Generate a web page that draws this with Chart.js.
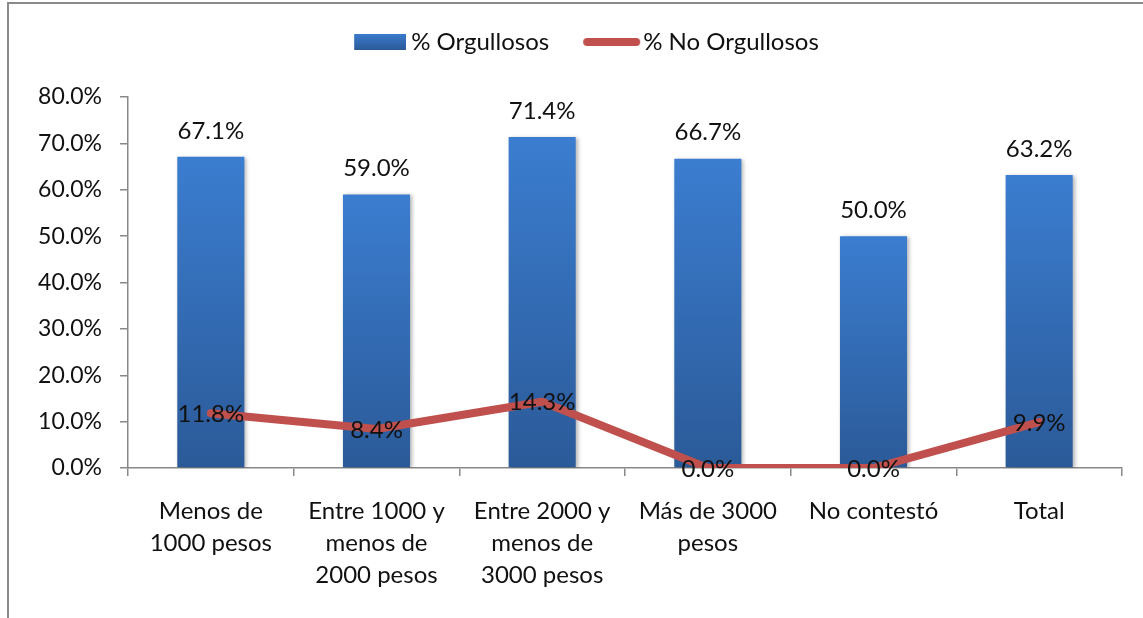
<!DOCTYPE html>
<html>
<head>
<meta charset="utf-8">
<script src="https://cdn.jsdelivr.net/npm/chart.js@4.4.1/dist/chart.umd.min.js"></script>
<style>
  html, body { margin: 0; padding: 0; background: #fff; overflow: hidden; }
  #frame { position: absolute; left: 7px; top: 2px; width: 1200px; height: 700px; border: 2px solid #8a8a8a; }
  #wrap { position: absolute; left: 0; top: 0; width: 1143px; height: 618px; }
</style>
</head>
<body>
<div id="frame"></div>
<div id="wrap"><canvas id="chart" width="1143" height="618"></canvas></div>
<script>
// chart data
const categories = [
  ["Menos de", "1000 pesos"],
  ["Entre 1000 y", "menos de", "2000 pesos"],
  ["Entre 2000 y", "menos de", "3000 pesos"],
  ["Más de 3000", "pesos"],
  ["No contestó"],
  ["Total"]
];
const orgullosos = [67.1, 59.0, 71.4, 66.7, 50.0, 63.2];
const noOrgullosos = [11.8, 8.4, 14.3, 0.0, 0.0, 9.9];
const seriesNames = ["% Orgullosos", "% No Orgullosos"];
const yMin = 0, yMax = 80, yStep = 10;

const FONT = "Lato";
const TEXT = "#111";
const AXIS = "#888";

Chart.defaults.font.family = FONT;
Chart.defaults.font.size = 24;
Chart.defaults.color = TEXT;

// legend swatches (image wider than the box so the gap to the text is small)
function blueSwatch() {
  const c = document.createElement("canvas");
  c.width = 66; c.height = 18;
  const x = c.getContext("2d");
  const g = x.createLinearGradient(0, 0, 0, 17);
  g.addColorStop(0, "#3b7dd0");
  g.addColorStop(1, "#2b5a98");
  x.fillStyle = g;
  x.fillRect(14, 1, 52, 16);
  return c;
}
function redSwatch() {
  const c = document.createElement("canvas");
  c.width = 72; c.height = 10;
  const x = c.getContext("2d");
  x.strokeStyle = "#c0504d";
  x.lineWidth = 8;
  x.lineCap = "round";
  x.beginPath();
  x.moveTo(18, 5);
  x.lineTo(67, 5);
  x.stroke();
  return c;
}

// bar fill: light blue at the top of each bar, darker at the base
function barGradient(ctx) {
  const chart = ctx.chart;
  if (!chart.chartArea || ctx.type !== "data") return "#3570b8";
  const y = chart.scales.y;
  const top = y.getPixelForValue(ctx.raw);
  const base = y.getPixelForValue(0);
  const g = chart.ctx.createLinearGradient(0, top, 0, base);
  g.addColorStop(0, "#3b7dd0");
  g.addColorStop(1, "#2b5a98");
  return g;
}

// legend band tall enough so the plot starts at the 80% line, nudged right
const legendBox = {
  id: "legendBox",
  afterInit(chart) {
    const lg = chart.legend;
    const fit = lg.fit;
    lg.fit = function () { fit.call(this); this.height = 97; };
  },
  afterLayout(chart) {
    chart.legend.left += 22;
    chart.legend.right += 22;
  }
};

// soft shadow under the bars
const barShadow = {
  id: "barShadow",
  beforeDatasetDraw(chart, args) {
    if (args.meta.type !== "bar") return;
    const ctx = chart.ctx;
    ctx.save();
    ctx.shadowColor = "rgba(0,0,0,0.3)";
    ctx.shadowBlur = 4;
    ctx.shadowOffsetX = 2;
    ctx.shadowOffsetY = 1;
  },
  afterDatasetDraw(chart, args) {
    if (args.meta.type !== "bar") return;
    chart.ctx.restore();
  }
};

// value labels: above the bars, centred on the line points
const valueLabels = {
  id: "valueLabels",
  afterDatasetsDraw(chart) {
    const ctx = chart.ctx;
    ctx.save();
    ctx.font = "24px " + FONT;
    ctx.fillStyle = TEXT;
    ctx.textAlign = "center";
    ctx.textBaseline = "middle";
    chart.data.datasets.forEach((ds, i) => {
      const meta = chart.getDatasetMeta(i);
      meta.data.forEach((el, j) => {
        const txt = ds.data[j].toFixed(1) + "%";
        if (meta.type === "bar") ctx.fillText(txt, el.x, el.y - 26);
        else ctx.fillText(txt, el.x, el.y + 1);
      });
    });
    ctx.restore();
  }
};

new Chart(document.getElementById("chart"), {
  data: {
    labels: categories,
    datasets: [
      {
        type: "bar",
        label: seriesNames[0],
        data: orgullosos,
        backgroundColor: barGradient,
        borderWidth: 0,
        categoryPercentage: 1,
        barPercentage: 0.405,
        pointStyle: blueSwatch(),
        order: 1
      },
      {
        type: "line",
        label: seriesNames[1],
        data: noOrgullosos,
        borderColor: "#c0504d",
        backgroundColor: "#c0504d",
        borderWidth: 8,
        borderCapStyle: "round",
        borderJoinStyle: "round",
        pointRadius: 0,
        tension: 0,
        pointStyle: redSwatch(),
        order: 0
      }
    ]
  },
  options: {
    responsive: false,
    animation: false,
    layout: { padding: { top: 0, right: 21, bottom: 0, left: 0 } },
    plugins: {
      tooltip: { enabled: false },
      legend: {
        position: "top",
        labels: {
          usePointStyle: true,
          pointStyleWidth: 52,
          padding: 30,
          color: TEXT,
          font: { size: 24 },
          sort: (a, b) => a.datasetIndex - b.datasetIndex
        }
      }
    },
    scales: {
      x: {
        offset: true,
        grid: { display: true, drawOnChartArea: false, drawTicks: true, tickLength: 8, offset: true, color: AXIS, lineWidth: 1.5 },
        border: { display: true, color: AXIS, width: 1.5 },
        ticks: { padding: 19, color: TEXT, font: { size: 24, lineHeight: 1.33 }, maxRotation: 0, autoSkip: false },
        afterFit: (s) => { s.height = 150; }
      },
      y: {
        min: yMin,
        max: yMax,
        grid: { display: true, drawOnChartArea: false, drawTicks: true, tickLength: 8, color: AXIS, lineWidth: 1.5 },
        border: { display: true, color: AXIS, width: 1.5 },
        ticks: {
          stepSize: yStep,
          padding: 18,
          color: TEXT,
          font: { size: 23 },
          callback: (v) => v.toFixed(1) + "%"
        },
        afterFit: (s) => { s.width = 128; }
      }
    }
  },
  plugins: [legendBox, barShadow, valueLabels]
});
</script>
</body>
</html>
